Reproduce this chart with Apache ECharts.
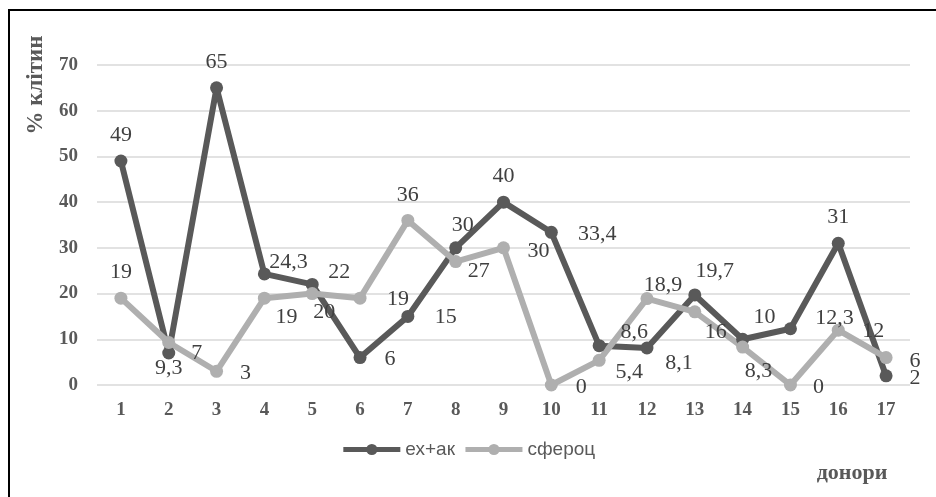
<!DOCTYPE html>
<html>
<head>
<meta charset="utf-8">
<script src="https://cdn.jsdelivr.net/npm/echarts@6/dist/echarts.min.js"></script>
<style>
  html, body { margin: 0; padding: 0; background: #fff; }
  #chart { width: 936px; height: 497px; }
</style>
</head>
<body>
<div id="chart"></div>
<script>
// donors 1..17
var donors = ['1', '2', '3', '4', '5', '6', '7', '8', '9', '10', '11', '12', '13', '14', '15', '16', '17'];
var exAk = [49, 7, 65, 24.3, 22, 6, 15, 30, 40, 33.4, 8.6, 8.1, 19.7, 10, 12.3, 31, 2];
var spheroc = [19, 9.3, 3, 19, 20, 19, 36, 27, 30, 0, 5.4, 18.9, 16, 8.3, 0, 12, 6];
var yTicks = [0, 10, 20, 30, 40, 50, 60, 70];

// label placement, same as the manually moved labels in the source
var exAkLabelOffset = [[0, -26], [28, 0], [0, -26], [24, -12], [27, -12], [30, 2], [38, 1], [7, -23], [0, -26],
  [46, 2], [35, -13], [32, 15], [20, -24], [22, -22], [44, -11], [0, -26], [29, 2]];
var spherocLabelOffset = [[0, -26], [0, 26], [29, 2], [22, 19], [12, 19], [38, 1], [0, -25], [23, 10], [35, 3],
  [30, 2], [30, 12], [16, -13], [21, 20], [16, 24], [28, 2], [35, 1], [29, 4]];

var dark = '#595959';
var light = '#afafaf';
var labelColor = '#404040';

function withLabels(values, offsets) {
  return values.map(function (v, i) {
    return { value: v, label: { offset: offsets[i] } };
  });
}

function commaFmt(p) { return String(p.value).replace('.', ','); }

var chart = echarts.init(document.getElementById('chart'), null, { renderer: 'canvas' });
chart.setOption({
  animation: false,
  backgroundColor: '#fff',
  grid: { left: 97, right: 26, top: 65, bottom: 112 },
  legend: {
    bottom: 33,
    left: 'center',
    itemWidth: 57,
    itemHeight: 14,
    itemGap: 8,
    lineStyle: { width: 5 },
    textStyle: { fontFamily: 'Liberation Sans', fontSize: 19, color: dark },
    data: ['ех+ак', 'сфероц']
  },
  xAxis: {
    type: 'category',
    data: donors,
    boundaryGap: true,
    axisLine: { show: false },
    axisTick: { show: false },
    axisLabel: { margin: 16, fontFamily: 'Liberation Serif', fontWeight: 'bold', fontSize: 19, color: dark }
  },
  yAxis: {
    type: 'value',
    min: yTicks[0],
    max: yTicks[yTicks.length - 1],
    interval: 10,
    axisLine: { show: false },
    axisTick: { show: false },
    axisLabel: { margin: 19, fontFamily: 'Liberation Serif', fontWeight: 'bold', fontSize: 19, color: dark },
    splitLine: { lineStyle: { color: '#d9d9d9', width: 1.5 } }
  },
  graphic: [
    { type: 'rect', shape: { x: 9, y: 10, width: 940, height: 500 }, style: { fill: 'none', stroke: '#000', lineWidth: 2 } },
    {
      type: 'text', x: 36, y: 85, rotation: Math.PI / 2,
      style: { text: '% клітин', fontFamily: 'Liberation Serif', fontWeight: 'bold', fontSize: 23, fill: dark, align: 'center', verticalAlign: 'middle' }
    },
    {
      type: 'text', x: 852, y: 473,
      style: { text: 'донори', fontFamily: 'Liberation Serif', fontWeight: 'bold', fontSize: 22, fill: dark, align: 'center', verticalAlign: 'middle' }
    }
  ],
  series: [
    {
      name: 'ех+ак',
      type: 'line',
      data: withLabels(exAk, exAkLabelOffset),
      symbol: 'circle',
      symbolSize: 13,
      lineStyle: { color: dark, width: 6 },
      itemStyle: { color: dark },
      label: { show: true, position: 'inside', fontFamily: 'Liberation Serif', fontSize: 22, color: labelColor, formatter: commaFmt }
    },
    {
      name: 'сфероц',
      type: 'line',
      data: withLabels(spheroc, spherocLabelOffset),
      symbol: 'circle',
      symbolSize: 13,
      lineStyle: { color: light, width: 6 },
      itemStyle: { color: light },
      label: { show: true, position: 'inside', fontFamily: 'Liberation Serif', fontSize: 22, color: labelColor, formatter: commaFmt }
    }
  ]
});
</script>
</body>
</html>
